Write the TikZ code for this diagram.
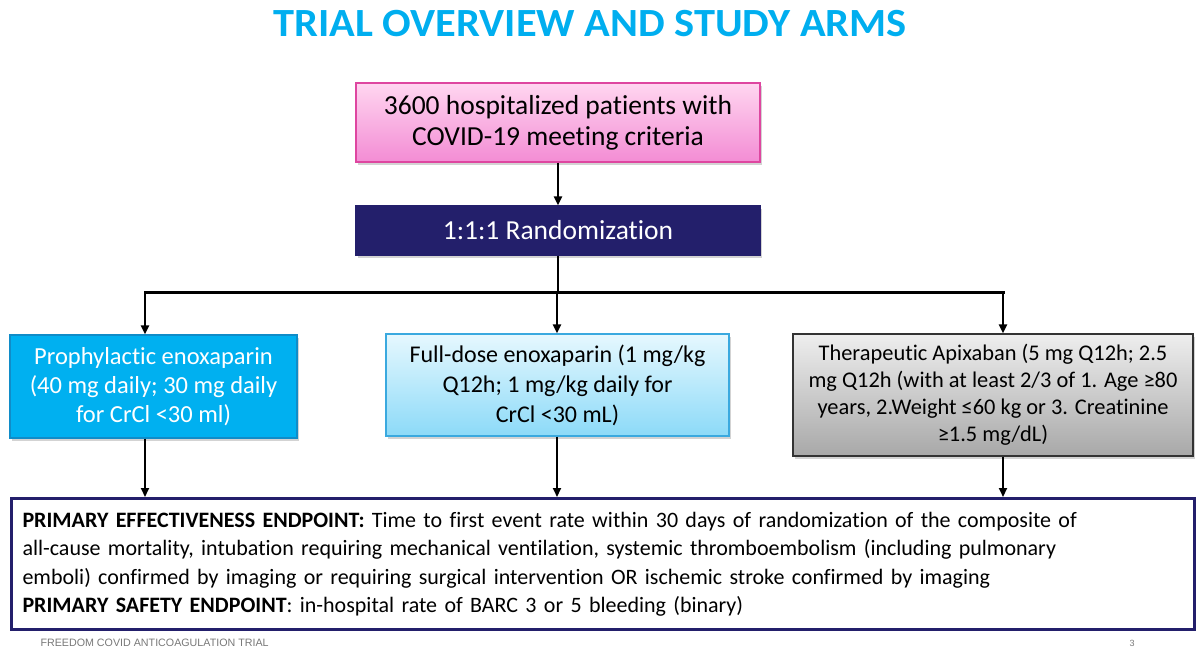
\documentclass[tikz,border=0pt]{standalone}
\usepackage{fontspec}
\setmainfont{Carlito}[Ligatures=NoCommon]
\newfontfamily\footfont{Liberation Sans}
\usetikzlibrary{arrows.meta,shadows}
\definecolor{titleblue}{RGB}{0,174,239}
\definecolor{navy}{RGB}{35,31,107}
\definecolor{pinktop}{RGB}{255,214,240}
\definecolor{pinkbot}{RGB}{243,140,212}
\definecolor{pinkline}{RGB}{222,70,160}
\definecolor{prophfill}{RGB}{0,176,240}
\definecolor{prophline}{RGB}{16,140,200}
\definecolor{fulltop}{RGB}{230,248,254}
\definecolor{fullbot}{RGB}{140,218,248}
\definecolor{fullline}{RGB}{58,169,223}
\definecolor{apixtop}{RGB}{238,238,238}
\definecolor{apixbot}{RGB}{168,168,168}
\definecolor{footgray}{RGB}{120,120,120}

\begin{document}
\begin{tikzpicture}[x=1pt,y=-1pt,
  font=\fontsize{22}{28.5}\selectfont,
  armbox/.style={draw, line width=1.2pt, align=center, inner sep=0pt,
    drop shadow={shadow xshift=2pt,shadow yshift=-2.5pt,opacity=0.35}},
  flow/.style={line width=2pt, -{Triangle[length=9pt,width=8pt]}}]
\useasboundingbox (0,0) rectangle (1200,654);
% title
\node[text=titleblue, font=\fontsize{40}{42}\selectfont\bfseries\addfontfeature{FakeStretch=1.06}] (title) at (590,24) {TRIAL OVERVIEW AND STUDY ARMS};
% top of the flow
\node[armbox, draw=pinkline, top color=pinktop, bottom color=pinkbot, minimum width=404pt, minimum height=79pt,
  font=\fontsize{27.5}{31}\selectfont] (pat) at (558,122.5) {3600 hospitalized patients with\\COVID-19 meeting criteria};
\node[armbox, draw=navy, fill=navy, text=white, minimum width=404pt, minimum height=49pt,
  font=\fontsize{27.5}{31}\selectfont] (rand) at (558,230.5) {1:1:1 Randomization};
\draw[flow] (pat) -- (rand);
% split into the three arms
\coordinate (split) at (558,292);
\coordinate (c1) at (145,292);
\coordinate (c2) at (557,292);
\coordinate (c3) at (1003,292);
\draw[line width=2pt] (rand) -- (split);
\draw[line width=3pt, line cap=rect] (c1) -- (c3);
% arms
\node[armbox, draw=prophline, fill=prophfill, text=white, minimum width=287pt, minimum height=103pt,
  font=\fontsize{24.5}{29}\selectfont] (proph) at (153.5,386.5)
  {Prophylactic enoxaparin\\(40 mg daily; 30 mg daily\\for CrCl <30 ml)};
\node[armbox, draw=fullline, top color=fulltop, bottom color=fullbot, minimum width=343pt, minimum height=102pt,
  font=\fontsize{24}{30}\selectfont] (full) at (557.5,385)
  {Full-dose enoxaparin (1 mg/kg\\Q12h; 1 mg/kg daily for\\CrCl <30 mL)};
\node[armbox, draw=black!80, top color=apixtop, bottom color=apixbot, minimum width=400pt, minimum height=122pt,
  font=\fontsize{22.4}{27}\selectfont] (apix) at (993,395)
  {Therapeutic Apixaban (5 mg Q12h; 2.5\\mg Q12h (with at least 2/3 of 1. Age ≥80\\years, 2.Weight ≤60 kg or 3. Creatinine\\≥1.5 mg/dL)};
% endpoints
\node[draw=navy, line width=3pt, fill=white, align=left, anchor=north west, inner xsep=11pt, inner ysep=0pt,
  minimum width=1183pt, minimum height=131pt, text width=1161pt] (ends) at (10,497)
  {\textbf{PRIMARY EFFECTIVENESS ENDPOINT:} Time to first event rate within 30 days of randomization of the composite of\\
   all-cause mortality, intubation requiring mechanical ventilation, systemic thromboembolism (including pulmonary\\
   emboli) confirmed by imaging or requiring surgical intervention OR ischemic stroke confirmed by imaging\\
   \textbf{PRIMARY SAFETY ENDPOINT}: in-hospital rate of BARC 3 or 5 bleeding (binary)};
\foreach \c/\arm in {c1/proph,c2/full,c3/apix}{
  \draw[flow] (\c) -- (\c |- \arm.north);
  \draw[flow] (\c |- \arm.south) -- (\c |- ends.north);
}
% footer
\node[anchor=west, text=footgray, font=\footfont\fontsize{10.7}{12}\selectfont] (foot) at (37,643) {FREEDOM COVID ANTICOAGULATION TRIAL};
\node[text=footgray, font=\footfont\fontsize{9}{11}\selectfont] (page) at (1132,643) {3};
\end{tikzpicture}
\end{document}
